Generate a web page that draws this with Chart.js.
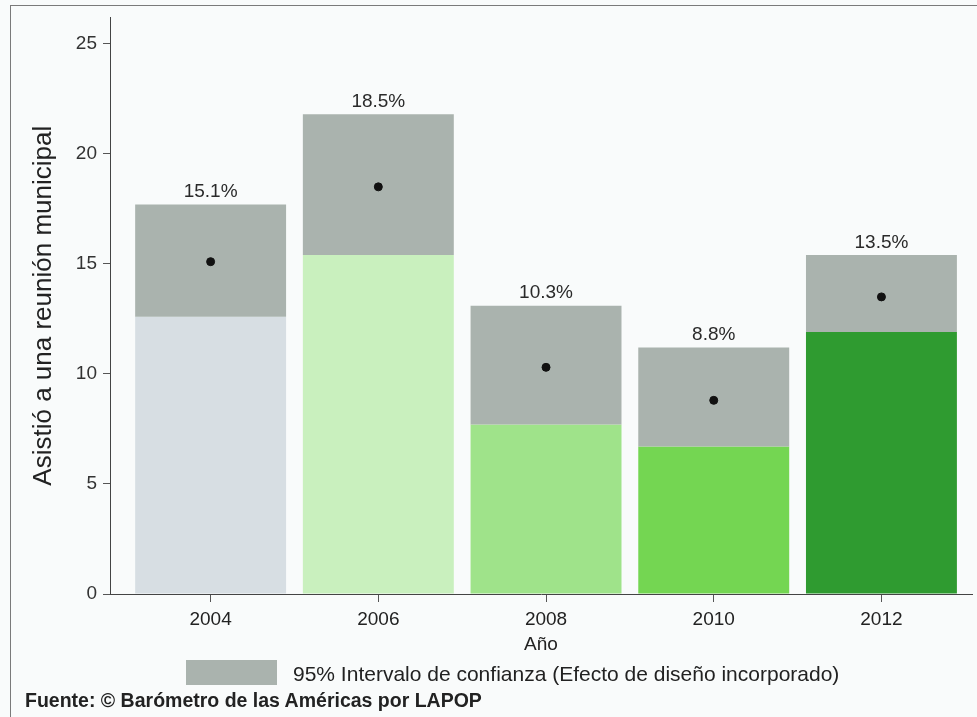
<!DOCTYPE html>
<html>
<head>
<meta charset="utf-8">
<script src="https://cdn.jsdelivr.net/npm/chart.js@4"></script>
<style>
  body { margin: 0; background: #f9fbfb; }
  #wrap { position: relative; width: 977px; height: 717px; overflow: hidden; font-family: "Liberation Sans", Arial, sans-serif; color: #222; }
  #frame { position: absolute; left: 10px; top: 5px; width: 1000px; height: 800px; border: 1.5px solid #7a7a7a; }
  #chart { position: absolute; left: 0; top: 0; }
  #legBox { position: absolute; left: 186px; top: 660px; width: 91px; height: 25px; background: #aab3ae; }
  #legText { position: absolute; left: 293px; top: 662px; font-size: 21px; line-height: 24px; white-space: nowrap; }
  #source { position: absolute; left: 25px; top: 689px; font-size: 19.5px; font-weight: bold; line-height: 22px; white-space: nowrap; }
</style>
</head>
<body>
<div id="wrap">
  <div id="frame"></div>
  <canvas id="chart" width="977" height="717"></canvas>
  <div id="legBox"></div>
  <div id="legText">95% Intervalo de confianza (Efecto de diseño incorporado)</div>
  <div id="source">Fuente: © Barómetro de las Américas por LAPOP</div>
</div>
<script>
// Datos
const years = [2004, 2006, 2008, 2010, 2012];
const means = [15.1, 18.5, 10.3, 8.8, 13.5];
const lower = [12.6, 15.4, 7.7, 6.7, 11.9];
const upper = [17.7, 21.8, 13.1, 11.2, 15.4];
const yTicks = [0, 5, 10, 15, 20, 25];

const barColors = ['#d7dee3', '#c9f0be', '#9fe38a', '#74d652', '#2f9b30'];
const ciColor = '#aab3ae';
const fontFamily = '"Liberation Sans", Arial, sans-serif';

// Etiquetas de porcentaje sobre cada barra
const pctLabels = {
    id: 'pctLabels',
    afterDatasetsDraw(chart) {
        const ctx = chart.ctx;
        const xs = chart.scales.x;
        const ys = chart.scales.y;
        ctx.save();
        ctx.font = '19px ' + fontFamily;
        ctx.fillStyle = '#2a2a2a';
        ctx.textAlign = 'center';
        ctx.textBaseline = 'bottom';
        years.forEach((yr, i) => {
            ctx.fillText(means[i].toFixed(1) + '%', xs.getPixelForValue(yr), ys.getPixelForValue(upper[i]) - 3);
        });
        ctx.restore();
    }
};

new Chart(document.getElementById('chart').getContext('2d'), {
    type: 'bar',
    data: {
        datasets: [
            {
                type: 'scatter',
                data: years.map((yr, i) => ({ x: yr, y: means[i] })),
                backgroundColor: '#111',
                borderColor: '#111',
                pointRadius: 4,
                order: 0
            },
            {
                label: '95% Intervalo de confianza',
                data: years.map((yr, i) => ({ x: yr, y: [lower[i], upper[i]] })),
                backgroundColor: ciColor,
                grouped: false,
                barPercentage: 0.9,
                categoryPercentage: 1.0,
                order: 1
            },
            {
                data: years.map((yr, i) => ({ x: yr, y: lower[i] })),
                backgroundColor: barColors,
                grouped: false,
                barPercentage: 0.9,
                categoryPercentage: 1.0,
                order: 2
            }
        ]
    },
    options: {
        responsive: false,
        animation: false,
        layout: { padding: { left: 0, top: 17, right: 0, bottom: 0 } },
        plugins: {
            legend: { display: false },
            tooltip: { enabled: false }
        },
        scales: {
            x: {
                type: 'linear',
                min: 2002.8,
                max: 2013.08,
                offset: false,
                afterBuildTicks: s => { s.ticks = years.map(v => ({ value: v })); },
                afterFit: s => { s.height = 123; },
                ticks: {
                    callback: v => String(v),
                    font: { family: fontFamily, size: 19 },
                    color: '#222',
                    padding: 6,
                    maxRotation: 0
                },
                grid: { display: true, drawOnChartArea: false, offset: false, tickLength: 8, color: '#555' },
                border: { display: true, color: '#444', width: 1 },
                title: {
                    display: true,
                    text: 'Año',
                    font: { family: fontFamily, size: 19 },
                    color: '#222',
                    padding: { top: 0, bottom: 61 }
                }
            },
            y: {
                min: 0,
                max: 26.2,
                afterBuildTicks: s => { s.ticks = yTicks.map(v => ({ value: v })); },
                afterFit: s => { s.width = 110; },
                ticks: {
                    callback: v => String(v),
                    font: { family: fontFamily, size: 19 },
                    color: '#333',
                    padding: 6
                },
                grid: { display: true, drawOnChartArea: false, tickLength: 7, color: '#555' },
                border: { display: true, color: '#444', width: 1 },
                title: {
                    display: true,
                    text: 'Asistió a una reunión municipal',
                    font: { family: fontFamily, size: 26 },
                    color: '#222',
                    padding: { top: 28, bottom: 0 }
                }
            }
        }
    },
    plugins: [pctLabels]
});
</script>
</body>
</html>
